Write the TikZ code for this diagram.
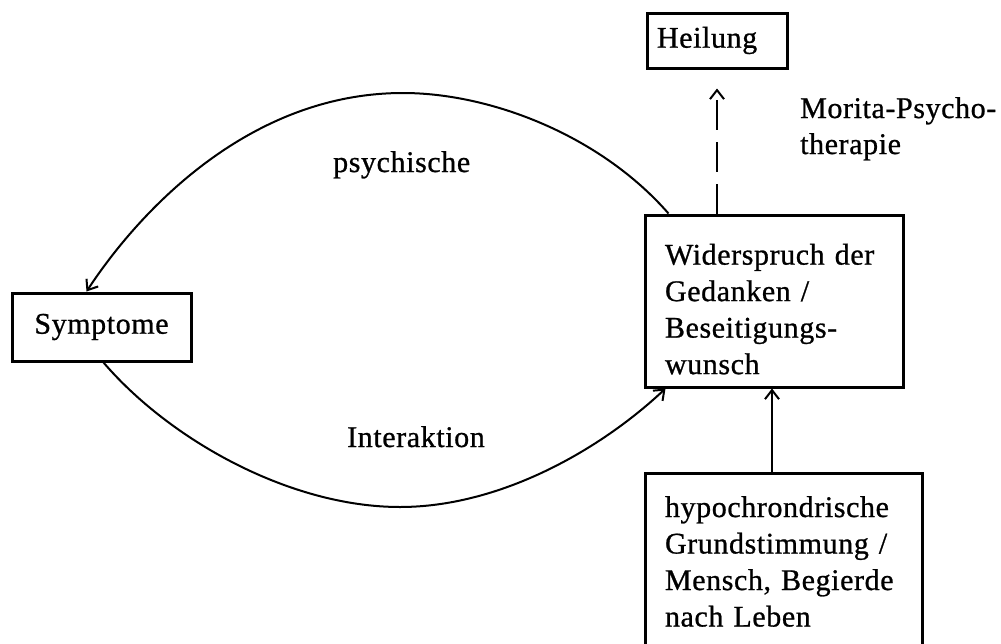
\documentclass[tikz,border=0pt]{standalone}
\usepackage{fontspec}
\setmainfont{Liberation Serif}[LetterSpace=2, FakeBold=0.8]
\usetikzlibrary{arrows.meta}
\begin{document}
\begin{tikzpicture}[x=1pt,y=-1pt,
  every node/.style={font=\fontsize{30}{36.5}\selectfont},
  box/.style={draw, line width=3pt, rectangle, inner xsep=0pt, inner ysep=0pt},
  conn/.style={line width=2pt, -{Straight Barb[length=9pt,width=14pt,line width=2pt]}},
  dashconn/.style={conn, dash pattern=on 30pt off 12pt},
  lbl/.style={inner sep=0pt}
]
\useasboundingbox (0,0) rectangle (1001,643);
\fill[white] (0,0) rectangle (1001,643);

\node[box, minimum width=140pt, minimum height=55pt, text width=120pt, align=left] (heil) at (717,40.5) {Heilung};
\node[box, minimum width=258pt, minimum height=172pt, text width=218pt, align=left] (wid) at (774,301)
  {\rule{0pt}{37pt}Widerspruch der\\Gedanken /\\Beseitigungs-\\wunsch};
\node[box, minimum width=277pt, minimum height=177pt, text width=237pt, align=left] (bot) at (783.5,561.5)
  {hypochrondrische\\Grundstimmung /\\Mensch, Begierde\\nach Leben};
\node[box, minimum width=179pt, minimum height=68pt, align=center] (sym) at (101.5,327) {Symptome};

\node[lbl, anchor=base west] (psy) at (333,172) {psychische};
\node[lbl, anchor=base west] (inter) at (347,447) {Interaktion};
\node[lbl, anchor=base west] (mor1) at (800,118) {Morita-Psycho-};
\node[lbl, anchor=base west] (mor2) at (800,154) {therapie};

\draw[conn] ([xshift=25pt]wid.north west) .. controls (600,135) and (490,93) .. (403,93)
  .. controls (250,93) and (140,210) .. ([xshift=76pt]sym.north west);
\draw[conn] ([xshift=93pt]sym.south west) .. controls (170,440) and (290,507) .. (400,507)
  .. controls (500,507) and (600,450) .. ([xshift=22pt]wid.south west);
\draw[conn] ([xshift=-11.5pt]bot.north) -- ([xshift=-11.5pt]bot.north |- wid.south);
\draw[dashconn, shorten >=19pt] ([xshift=-57pt]wid.north) -- (heil.south);
\end{tikzpicture}
\end{document}
